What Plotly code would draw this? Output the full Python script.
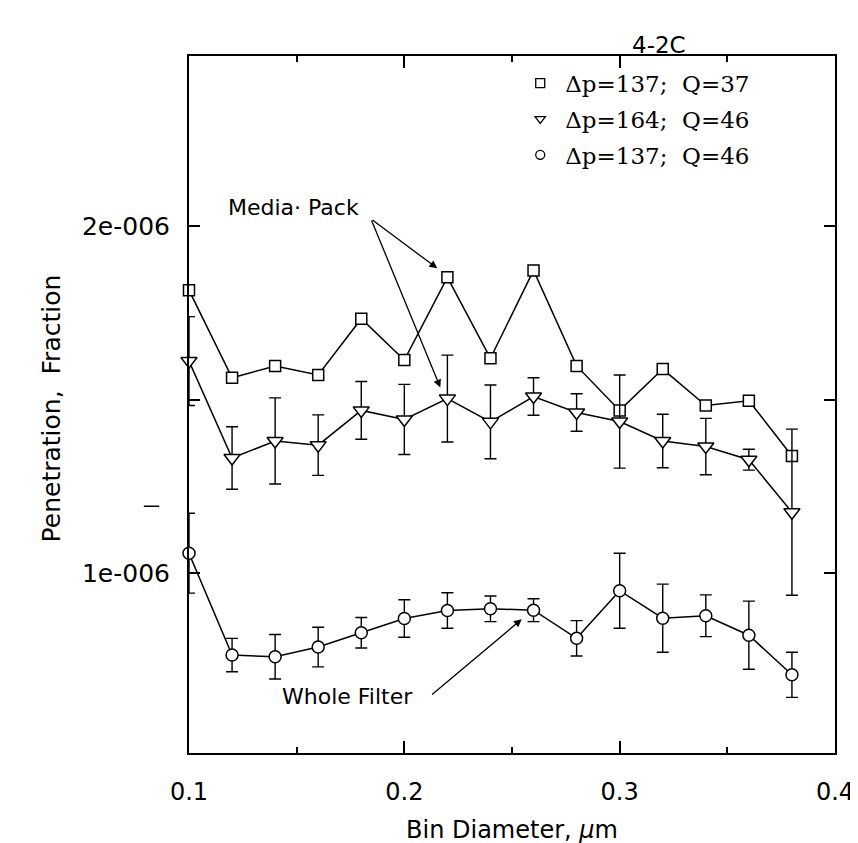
import plotly.graph_objects as go

# bin diameters, um
diam = [0.10, 0.12, 0.14, 0.16, 0.18, 0.20, 0.22, 0.24,
        0.26, 0.28, 0.30, 0.32, 0.34, 0.36, 0.38]

# dp=137; Q=37 (no error bars)
pen_a = [1.815, 1.563, 1.597, 1.571, 1.733, 1.614, 1.852, 1.619,
         1.872, 1.597, 1.469, 1.588, 1.483, 1.497, 1.338]

# dp=164; Q=46
pen_b = [1.611, 1.332, 1.381, 1.369, 1.469, 1.443, 1.503, 1.436,
         1.509, 1.463, 1.437, 1.381, 1.365, 1.327, 1.176]
err_b = [0.128, 0.090, 0.124, 0.087, 0.083, 0.101, 0.125, 0.106,
         0.054, 0.054, 0.134, 0.077, 0.081, 0.030, 0.239]

# dp=137; Q=46
pen_c = [1.058, 0.765, 0.760, 0.788, 0.829, 0.870, 0.893, 0.898,
         0.894, 0.813, 0.950, 0.871, 0.878, 0.822, 0.708]
err_c = [0.115, 0.048, 0.064, 0.057, 0.044, 0.054, 0.051, 0.037,
         0.033, 0.051, 0.108, 0.098, 0.060, 0.098, 0.065]

names = ["\u0394p=137;  Q=37", "\u0394p=164;  Q=46", "\u0394p=137;  Q=46"]
symbols = ["square", "triangle-down", "circle"]
sizes = [11, 14, 12]

y_ticks = [1.0e-6, 1.5e-6, 2.0e-6]
y_ticktext = ["1e-006", "", "2e-006"]

SANS = "DejaVu Sans"
SERIF = "DejaVu Serif"

scale = 1e-6
series = [(pen_a, None), (pen_b, err_b), (pen_c, err_c)]

fig = go.Figure()

for (vals, errs), sym, sz in zip(series, symbols, sizes):
    err = None
    if errs is not None:
        err = dict(type="data", array=[e * scale for e in errs],
                   color="black", thickness=1.4, width=6)
    fig.add_trace(go.Scatter(
        x=diam, y=[v * scale for v in vals], mode="lines+markers",
        line=dict(color="black", width=1.5),
        marker=dict(symbol=sym, size=sz, color="white",
                    line=dict(color="black", width=1.5)),
        error_y=err, showlegend=False, cliponaxis=False))

# legend-only entries (markers without lines)
for i, (name, sym) in enumerate(zip(names, symbols)):
    fig.add_trace(go.Scatter(
        x=[None], y=[None], mode="markers", name=name,
        legendgroup=str(i),
        marker=dict(symbol=sym, size=9, color="white",
                    line=dict(color="black", width=1.3))))

# arrows
arrow = dict(showarrow=True, arrowhead=2, arrowsize=1.2, arrowwidth=1.3,
             arrowcolor="black", xref="x", yref="y", axref="x", ayref="y")
fig.add_annotation(x=0.2153, y=1.878e-6, ax=0.1845, ay=2.02e-6, text="", **arrow)
fig.add_annotation(x=0.2167, y=1.535e-6, ax=0.1845, ay=2.02e-6, text="", **arrow)
fig.add_annotation(x=0.2545, y=0.868e-6, ax=0.2122, ay=0.648e-6, text="", **arrow)

fig.add_annotation(x=0.1485, y=2.054e-6, xref="x", yref="y", text="Media\u00b7 Pack",
                   showarrow=False, font=dict(family=SANS, size=22, color="black"))
fig.add_annotation(x=0.1735, y=0.645e-6, xref="x", yref="y", text="Whole Filter",
                   showarrow=False, font=dict(family=SANS, size=22, color="black"))

fig.add_annotation(x=0.772, y=1.037, xref="paper", yref="paper", text="4-2C",
                   showarrow=False, font=dict(family=SANS, size=23, color="black"))

fig.add_annotation(x=-0.237, y=0.495, xref="paper", yref="paper",
                   text="Penetration,  Fraction", textangle=-90,
                   showarrow=False, font=dict(family=SANS, size=25, color="black"))

# stray scan mark left of the axis
fig.add_shape(type="line", xref="paper", yref="paper",
              x0=-0.07, x1=-0.046, y0=0.354, y1=0.354,
              line=dict(color="black", width=1.5))

fig.update_layout(
    width=858, height=843,
    margin=dict(l=181, r=24, t=48, b=88),
    paper_bgcolor="white", plot_bgcolor="white",
    showlegend=True,
    legend=dict(x=0.505, y=0.992, xanchor="left", yanchor="top",
                bgcolor="rgba(0,0,0,0)", tracegroupgap=3,
                itemwidth=40,
                font=dict(family=SERIF, size=23, color="black")),
    xaxis=dict(
        range=[0.1, 0.4], tickvals=[0.1, 0.2, 0.3, 0.4],
        ticktext=["0.1", "0.2", "0.3", "0.4"],
        ticks="inside", ticklen=12, tickwidth=1.5, tickcolor="black",
        minor=dict(dtick=0.05, tick0=0.1, ticks="inside", ticklen=6,
                   tickwidth=1.5, tickcolor="black"),
        showline=True, linecolor="black", linewidth=2, mirror="ticks",
        showgrid=False, zeroline=False, ticklabelstandoff=16,
        tickfont=dict(family=SANS, size=24, color="black"),
        title=dict(text="Bin Diameter, <i>\u03bc</i>m", standoff=16,
                   font=dict(family=SANS, size=24, color="black"))),
    yaxis=dict(
        range=[0.483e-6, 2.489e-6], tickvals=y_ticks, ticktext=y_ticktext,
        ticks="inside", ticklen=11, tickwidth=1.5, tickcolor="black",
        showline=True, linecolor="black", linewidth=2, mirror="ticks",
        showgrid=False, zeroline=False, ticklabelstandoff=12,
        tickfont=dict(family=SANS, size=25, color="black")),
)

fig.write_html("out.html")
